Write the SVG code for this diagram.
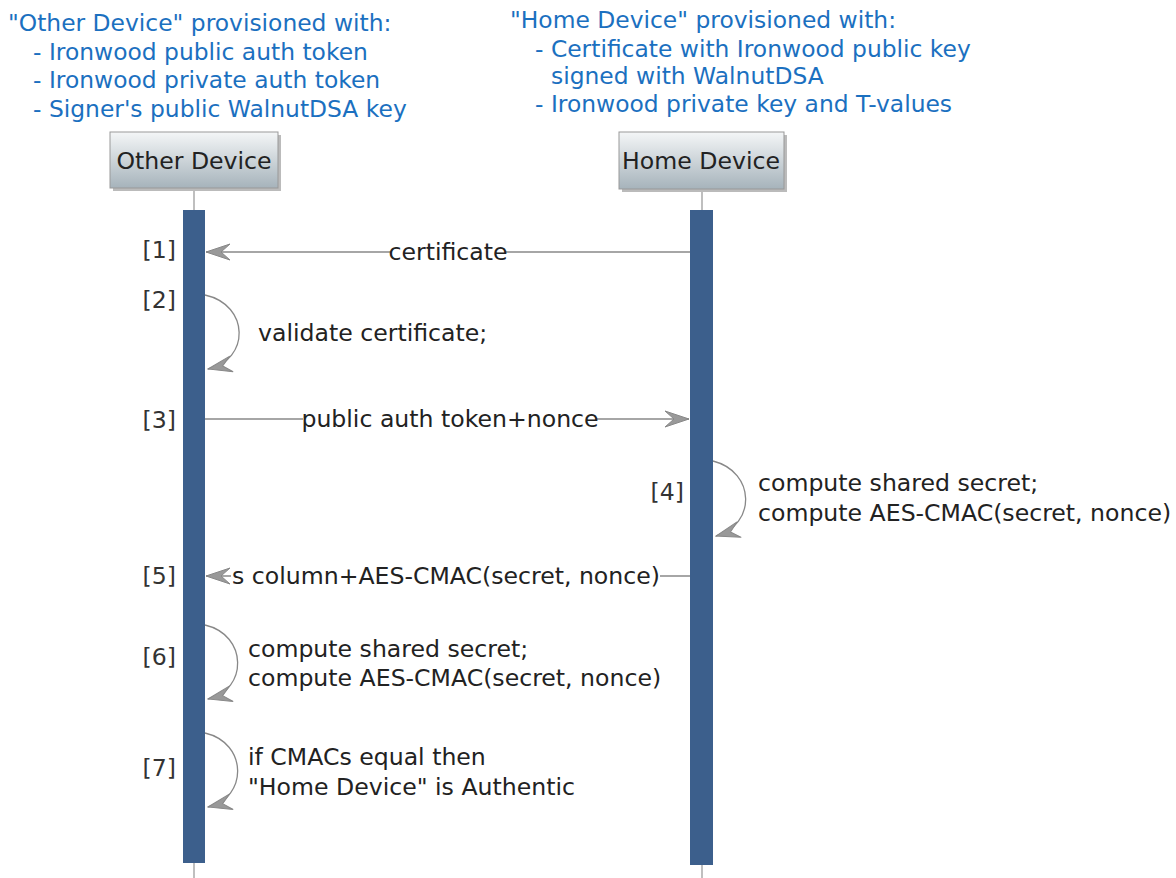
<svg xmlns="http://www.w3.org/2000/svg" width="1176" height="878" viewBox="0 0 1176 878">
<style>
text{font-family:"DejaVu Sans",Verdana,sans-serif;font-size:23.6px;fill:#222}
.hdr{fill:#1b70c0;font-size:23.4px}
.num{fill:#333}
.msg{stroke:#888;stroke-width:1.3;fill:none}
.life{stroke:#aaa;stroke-width:1.5}
.bar{fill:#3c5f8c}
.box{fill:url(#g);stroke:#999;stroke-width:1}
</style>
<defs>
<linearGradient id="g" x1="0" y1="0" x2="0" y2="1">
<stop offset="0" stop-color="#f4f6f7"/>
<stop offset="1" stop-color="#a6b3bb"/>
</linearGradient>
<marker id="ah" viewBox="0 0 26 18" refX="25" refY="9" markerWidth="26" markerHeight="18" markerUnits="userSpaceOnUse" orient="auto">
<path d="M1 1 L25 9 L1 17 L10 9 Z" fill="#999" stroke="#888" stroke-width="1"/>
</marker>
</defs>
<g id="notes">
<text class="hdr" x="8" y="31">"Other Device" provisioned with:</text>
<text class="hdr" x="33" y="60">- Ironwood public auth token</text>
<text class="hdr" x="33" y="88">- Ironwood private auth token</text>
<text class="hdr" x="33" y="117">- Signer's public WalnutDSA key</text>
<text class="hdr" x="510" y="28">"Home Device" provisioned with:</text>
<text class="hdr" x="535" y="57">- Certificate with Ironwood public key</text>
<text class="hdr" x="551" y="84">signed with WalnutDSA</text>
<text class="hdr" x="535" y="112">- Ironwood private key and T-values</text>
</g>
<g id="lifelines">
<line class="life" x1="194" y1="189" x2="194" y2="878"/>
<line class="life" x1="702" y1="190" x2="702" y2="878"/>
</g>
<g id="other-device">
<rect x="113" y="135" width="168" height="56" fill="#bbb"/>
<rect class="box" x="110" y="132" width="168" height="56"/>
<text x="194" y="169" text-anchor="middle">Other Device</text>
<rect class="bar" x="183" y="210" width="22" height="653"/>
</g>
<g id="home-device">
<rect x="622" y="135" width="165" height="57" fill="#bbb"/>
<rect class="box" x="619" y="132" width="165" height="57"/>
<text x="701" y="169" text-anchor="middle">Home Device</text>
<rect class="bar" x="690" y="210" width="23" height="655"/>
</g>
<g id="connectors">
<line class="msg" x1="690" y1="252" x2="206" y2="252" marker-end="url(#ah)"/>
<rect x="391" y="238" width="114" height="26" fill="#fff"/>
<text x="448" y="260" text-anchor="middle">certificate</text>
<path class="msg" d="M205 295 C250 305 250 360 208 369" marker-end="url(#ah)"/>
<line class="msg" x1="205" y1="419" x2="689" y2="419" marker-end="url(#ah)"/>
<rect x="303" y="405" width="294" height="26" fill="#fff"/>
<text x="450" y="427" text-anchor="middle">public auth token+nonce</text>
<path class="msg" d="M713 461 C756 472 756 525 716 536" marker-end="url(#ah)"/>
<line class="msg" x1="690" y1="576" x2="206" y2="576" marker-end="url(#ah)"/>
<rect x="231" y="562" width="429" height="26" fill="#fff"/>
<text x="232" y="584">s column+AES-CMAC(secret, nonce)</text>
<path class="msg" d="M205 625 C248 635 248 690 208 699" marker-end="url(#ah)"/>
<path class="msg" d="M205 733 C248 743 248 798 208 807" marker-end="url(#ah)"/>
</g>
<g id="labels">
<text class="num" x="176" y="258" text-anchor="end">[1]</text>
<text class="num" x="176" y="308" text-anchor="end">[2]</text>
<text x="258" y="341">validate certificate;</text>
<text class="num" x="176" y="428" text-anchor="end">[3]</text>
<text class="num" x="684" y="500" text-anchor="end">[4]</text>
<text x="758" y="491">compute shared secret;</text>
<text x="758" y="521">compute AES-CMAC(secret, nonce)</text>
<text class="num" x="176" y="584" text-anchor="end">[5]</text>
<text class="num" x="176" y="665" text-anchor="end">[6]</text>
<text x="248" y="657">compute shared secret;</text>
<text x="248" y="686">compute AES-CMAC(secret, nonce)</text>
<text class="num" x="176" y="776" text-anchor="end">[7]</text>
<text x="248" y="765">if CMACs equal then</text>
<text x="248" y="795">"Home Device" is Authentic</text>
</g>
</svg>
